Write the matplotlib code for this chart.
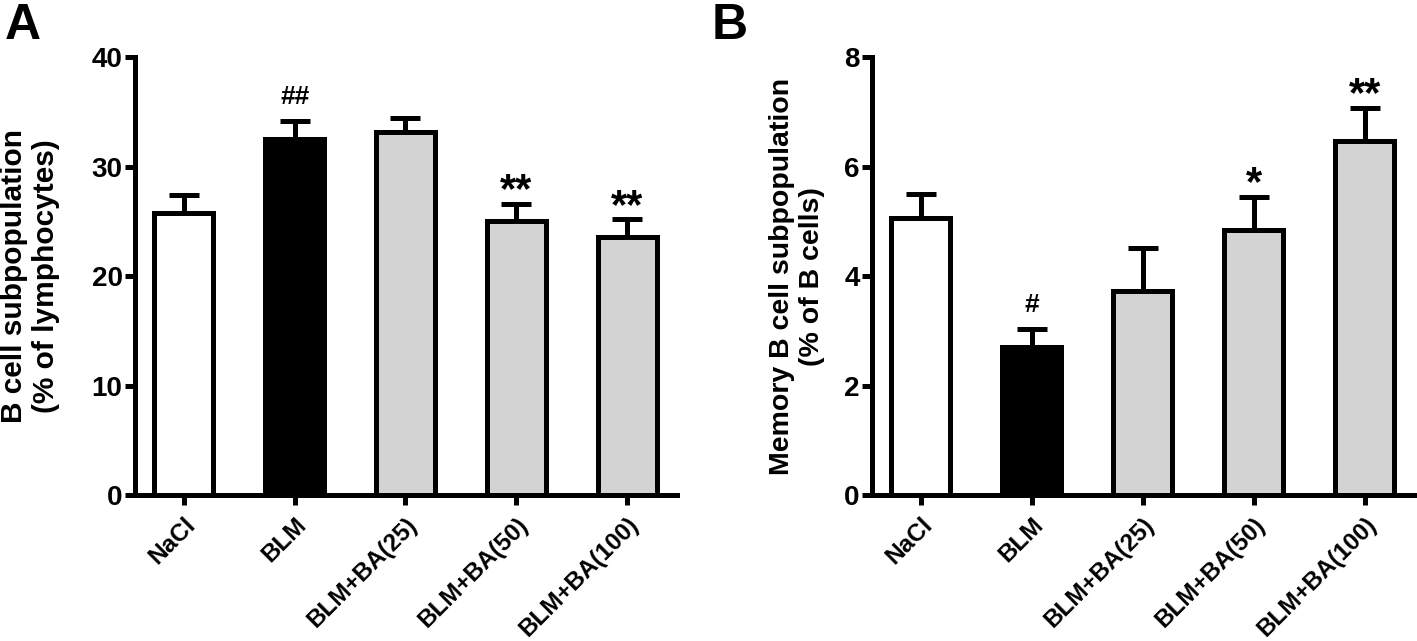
import numpy as np
import matplotlib
matplotlib.use("Agg")
import matplotlib.pyplot as plt

groups = ["NaCl", "BLM", "BLM+BA(25)", "BLM+BA(50)", "BLM+BA(100)"]
bar_colors = ["white", "black", "#d3d3d3", "#d3d3d3", "#d3d3d3"]

# panel A: B cells, % of lymphocytes
b_cells = [25.8, 32.5, 33.2, 25.0, 23.6]
b_cells_sem = [1.6, 1.7, 1.2, 1.6, 1.6]
b_cells_sig = ["", "##", "", "**", "**"]

# panel B: memory B cells, % of B cells
mem_b = [5.07, 2.70, 3.73, 4.84, 6.47]
mem_b_sem = [0.43, 0.33, 0.79, 0.61, 0.61]
mem_b_sig = ["", "#", "", "*", "**"]

LW = 3.6
plt.rcParams["font.family"] = ["Liberation Sans", "DejaVu Sans"]
plt.rcParams["font.weight"] = "bold"

fig = plt.figure(figsize=(14.17, 6.41), dpi=100)
ax_a = fig.add_axes([0.0953, 0.2278, 0.3825, 0.683])
ax_b = fig.add_axes([0.6154, 0.2278, 0.383, 0.683])


def draw_panel(ax, vals, sem, sig, ymax, ystep, ylabel, lab_size, lab_x):
    x = np.arange(len(vals))
    ax.errorbar(x, vals, yerr=[np.zeros(len(sem)), sem], fmt="none",
                ecolor="black", elinewidth=LW, capsize=11, capthick=LW,
                zorder=1)
    ax.bar(x, vals, width=0.53, color=bar_colors, edgecolor="black",
           linewidth=LW, zorder=2)
    for xi, v, e, s in zip(x, vals, sem, sig):
        if not s:
            continue
        star = "*" in s
        ax.annotate(s, xy=(xi, v + e), xytext=(0, 1 if star else 12),
                    textcoords="offset points", ha="center", va="baseline",
                    fontsize=30 if star else 19, fontweight="bold")
    ax.set_xlim(-0.44, 4.45)
    ax.set_ylim(0, ymax)
    ax.set_yticks(np.arange(0, ymax + ystep / 2, ystep))
    ax.set_xticks(x)
    ax.set_xticklabels(groups, rotation=45, ha="right",
                       rotation_mode="anchor", fontsize=17.5,
                       fontweight="bold")
    for lab in ax.get_yticklabels():
        lab.set_family(["Liberation Sans Narrow", "Liberation Sans"])
        lab.set_fontsize(20)
        lab.set_fontweight("bold")
    ax.tick_params(axis="both", width=LW, length=7, direction="out",
                   pad=2)
    ax.tick_params(axis="x", pad=6)
    for side in ["top", "right"]:
        ax.spines[side].set_visible(False)
    for side in ["left", "bottom"]:
        ax.spines[side].set_linewidth(LW)
    ax.set_ylabel(ylabel, fontsize=lab_size, fontweight="bold")
    ax.yaxis.set_label_coords(lab_x, 0.5)


draw_panel(ax_a, b_cells, b_cells_sem, b_cells_sig, 40, 10,
           "B cell subpopulation\n(% of lymphocytes)", 21.5, -0.138)
draw_panel(ax_b, mem_b, mem_b_sem, mem_b_sig, 8, 2,
           "Memory B cell subpopulation\n(% of B cells)", 20.5, -0.087)

fig.text(0.003, 0.995, "A", fontsize=36, fontweight="bold", va="top")
fig.text(0.502, 0.995, "B", fontsize=36, fontweight="bold", va="top")

fig.savefig("out.png", dpi=100)
